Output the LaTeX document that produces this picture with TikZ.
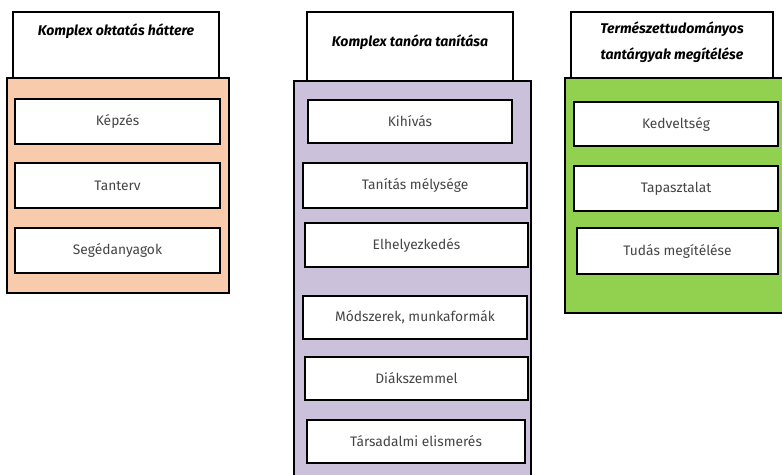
\documentclass[tikz,border=0pt]{standalone}
\usepackage{fontspec}
\setmainfont{Fira Sans}
\definecolor{mypeach}{HTML}{F8CBAD}
\definecolor{mylilac}{HTML}{CCC1DA}
\definecolor{mygreen}{HTML}{92D050}
\definecolor{mytext}{HTML}{454545}
\usetikzlibrary{positioning}
\tikzset{
	headbox/.style={draw=black, line width=1.3pt, fill=white}
}
\tikzset{
	headtext/.style={font=\fontsize{10}{18.5}\selectfont\bfseries\itshape, align=center}
}
\tikzset{
	panel/.style={draw=black, line width=1.3pt, fill=#1}
}
\tikzset{
	itembox/.style={draw=black, line width=1.7pt, fill=white, font=\fontsize{9.8}{12}\selectfont\color{mytext}}
}

\begin{document}
\begin{tikzpicture}
\useasboundingbox (0,0) rectangle (19.55,-11.85);
\begin{scope}
\clip (0,0) rectangle (19.55,-11.85);

\coordinate (hA) at (2.9,-1.125);
\coordinate (hB) at (10.25,-1.1625);
\coordinate (hC) at (16.8,-1.125);

% column headers
\node[headbox, minimum width=5.15cm, minimum height=1.65cm] (headA) at (hA) {};
\node[headbox, minimum width=5.15cm, minimum height=1.725cm] (headB) at (hB) {};
\node[headbox, minimum width=5.05cm, minimum height=1.65cm] (headC) at (hC) {};

\node[headtext] (headAtxt) at ([yshift=-0.5cm]headA.north) {Komplex oktatás háttere};
\node[headtext] (headBtxt) at ([yshift=0.1cm]headB.center) {Komplex tanóra tanítása};
\node[headtext] (headCtxt) at ([yshift=0.08cm]headC.center) {Természettudományos\\tantárgyak megítélése};

% panels
\node[panel=mypeach, minimum width=5.55cm, minimum height=5.375cm] (panelA) at (2.95,-4.6375) {};
\node[panel=mylilac, minimum width=5.925cm, minimum height=9.975cm] (panelB) at (10.3125,-7.0125) {};
\node[panel=mygreen, minimum width=5.475cm, minimum height=5.875cm] (panelC) at (16.8625,-4.8875) {};

% items
\node[itembox, minimum width=5.125cm, minimum height=1.125cm] (kepzes) at (2.9375,-3.0375) {Képzés};
\node[itembox, minimum width=5.125cm, minimum height=1.125cm] (tanterv) at (2.9375,-4.6375) {Tanterv};
\node[itembox, minimum width=5.125cm, minimum height=1.125cm] (segedanyag) at (2.9375,-6.2625) {Segédanyagok};

\node[itembox, minimum width=5.1cm, minimum height=1.075cm] (kihivas) at (10.25,-3.0375) {Kihívás};
\node[itembox, minimum width=5.6cm, minimum height=1.125cm] (melyseg) at (10.375,-4.6375) {Tanítás mélysége};
\node[itembox, minimum width=5.575cm, minimum height=1.1cm] (elhelyezkedes) at (10.4125,-6.125) {Elhelyezkedés};
\node[itembox, minimum width=5.6cm, minimum height=1.075cm] (modszerek) at (10.375,-7.9375) {Módszerek, munkaformák};
\node[itembox, minimum width=5.575cm, minimum height=1.075cm] (diakszem) at (10.4125,-9.4625) {Diákszemmel};
\node[itembox, minimum width=5.45cm, minimum height=1.075cm] (elismeres) at (10.4,-11.0375) {Társadalmi elismerés};

\node[itembox, minimum width=5.1cm, minimum height=1.1cm] (kedveltseg) at (16.9,-3.1) {Kedveltség};
\node[itembox, minimum width=5.1cm, minimum height=1.125cm] (tapasztalat) at (16.9,-4.7125) {Tapasztalat};
\node[itembox, minimum width=5.025cm, minimum height=1.15cm] (tudas) at (16.9375,-6.275) {Tudás megítélése};

\end{scope}
\end{tikzpicture}
\end{document}
